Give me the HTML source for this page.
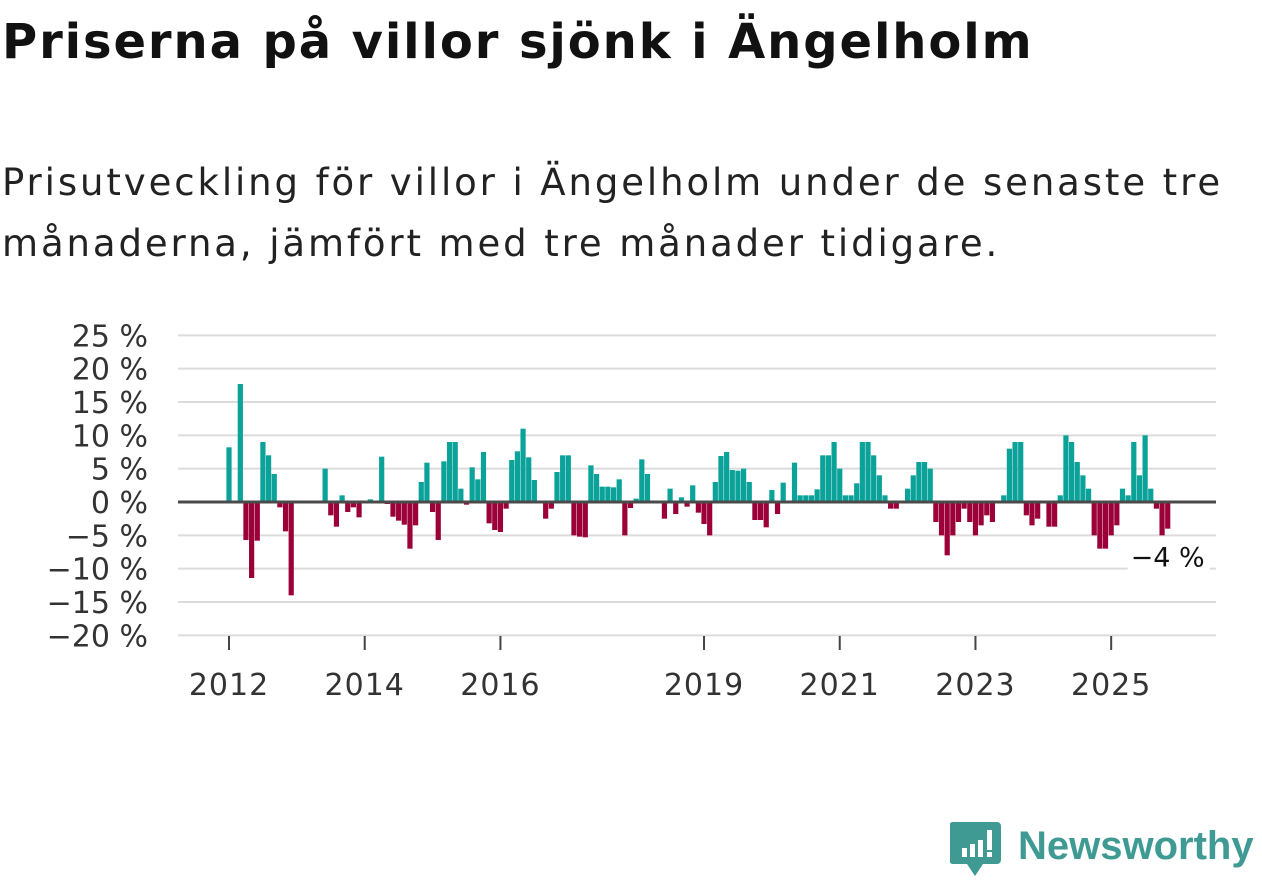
<!DOCTYPE html>
<html><head><meta charset="utf-8">
<style>
html,body{margin:0;padding:0;background:#fff;}
body{width:1262px;height:879px;position:relative;overflow:hidden;font-family:"DejaVu Sans","Liberation Sans",sans-serif;color:#111;}
#title{position:absolute;left:2px;top:14px;font-size:48px;font-weight:bold;margin:0;letter-spacing:1.9px;white-space:nowrap;}
#subtitle{position:absolute;left:2px;top:152px;font-size:37px;line-height:61px;margin:0;color:#222;letter-spacing:2.9px;white-space:nowrap;}
#logo{position:absolute;left:950px;top:818px;}
</style></head>
<body>
<h1 id="title">Priserna på villor sjönk i Ängelholm</h1>
<p id="subtitle">Prisutveckling för villor i Ängelholm under de senaste tre<br>månaderna, jämfört med tre månader tidigare.</p>
<svg id="chart" width="1262" height="879" style="position:absolute;left:0;top:0"></svg>
<div id="logo">
<svg width="310" height="60">
<path d="M3 4 h44 a4 4 0 0 1 4 4 v34 a4 4 0 0 1 -4 4 h-14 l-8 12 l-8 -12 h-14 a4 4 0 0 1 -4 -4 v-34 a4 4 0 0 1 4 -4z" fill="#3f9a94"/>
<rect x="12" y="30" width="5" height="9" fill="#fff"/><rect x="20" y="26" width="5" height="13" fill="#fff"/><rect x="28" y="22" width="5" height="17" fill="#fff"/><rect x="37" y="12" width="5" height="20" fill="#fff"/><rect x="37" y="34" width="5" height="5" fill="#fff"/>
<text x="68" y="41" font-size="40" font-family="Liberation Sans, sans-serif" fill="#3f9a94" font-weight="bold">Newsworthy</text>
</svg></div>
<script>
const values=[8.2,null,17.7,-5.7,-11.4,-5.8,9,7,4.2,-0.8,-4.4,-14,null,null,null,null,null,5,-2,-3.7,1,-1.5,-0.8,-2.3,0,0.4,0,6.8,-0.3,-2.2,-2.8,-3.4,-7,-3.5,3,5.9,-1.5,-5.7,6.1,9,9,2,-0.4,5.2,3.4,7.5,-3.2,-4.2,-4.5,-1,6.3,7.6,11,6.7,3.3,0,-2.5,-1,4.5,7,7,-5,-5.2,-5.3,5.5,4.2,2.3,2.3,2.2,3.4,-5,-0.9,0.5,6.4,4.2,0,0.2,-2.5,2,-1.8,0.7,-0.7,2.5,-1.6,-3.3,-5,3,6.9,7.5,4.8,4.7,5,3,-2.7,-2.7,-3.8,1.8,-1.8,2.9,0,5.9,1,1,1,1.9,7,7,9,5,1,1,2.8,9,9,7,4,1,-1,-1,0,2,4,6,6,5,-3,-5,-8,-5,-3,-1,-3,-5,-3.5,-2,-3,0,1,8,9,9,-2,-3.5,-2.5,0,-3.7,-3.7,1,10,9,6,4,2,-5,-7,-7,-5,-3.5,2,1,9,4,10,2,-1,-5,-4];
const yTicks=[25,20,15,10,5,0,-5,-10,-15,-20];
const yearLabels=[2012,2014,2016,2019,2021,2023,2025];
const lastLabel="\u22124 %";
const NS="http://www.w3.org/2000/svg";
const svg=document.getElementById('chart');
const x=i=>229+5.655*i;
const yearX=yr=>x((yr-2012)*12);
const y=v=>502-v*6.667;
const L=178,R=1216;
function el(t,a){const e=document.createElementNS(NS,t);for(const k in a)e.setAttribute(k,a[k]);svg.appendChild(e);return e;}
yTicks.forEach(t=>{
  if(t!==0){const g=el('line',{x1:L,x2:R,y1:y(t),y2:y(t),stroke:'#dcdcdc','stroke-width':2});
  
  }
  const tx=el('text',{x:148,y:y(t)+11,'text-anchor':'end','font-size':30,fill:'#333','font-family':'DejaVu Sans, sans-serif'});
  tx.textContent=(t<0?'\u2212'+(-t):t)+' %';
  
  
});
yearLabels.forEach(yr=>{
  const tk=el('line',{x1:yearX(yr),x2:yearX(yr),y1:636,y2:650,stroke:'#444','stroke-width':2});
  
  
  const tx=el('text',{x:yearX(yr),y:695,'text-anchor':'middle','font-size':30,fill:'#333','font-family':'DejaVu Sans, sans-serif','letter-spacing':1});
  tx.textContent=yr;
  
  
});
values.forEach((v,i)=>{
  if(v===null||v===0)return;
  const r=el('rect',{x:x(i)-2.6,width:5.2,y:Math.min(y(v),y(0)),height:Math.abs(y(v)-y(0)),fill:v>0?'#0ba29a':'#9b0038'});
  
  
});
const z=el('line',{x1:L,x2:R,y1:y(0),y2:y(0),stroke:'#4a4a4a','stroke-width':3});


const li=values.length-1;
const bg=el('rect',{x:x(li)-40,y:y(values[li])+10,width:82,height:38,fill:'#fff',rx:8});


const an=el('text',{x:x(li)+37,y:y(values[li])+38,'text-anchor':'end','font-size':27,fill:'#111','font-family':'DejaVu Sans, sans-serif'});
an.textContent=lastLabel;


</script>
</body></html>
